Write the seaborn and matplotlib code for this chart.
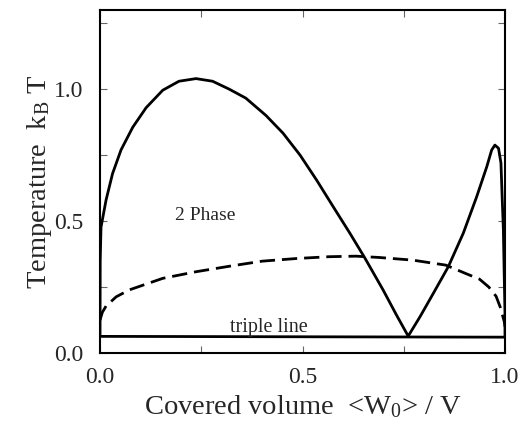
import matplotlib
matplotlib.use("Agg")
import matplotlib.pyplot as plt
import seaborn as sns
from matplotlib.ticker import MultipleLocator

# binodal (solid), dashed curve, triple line
solid_x = [0.0, 0.0005, 0.0025, 0.015, 0.031, 0.052, 0.081, 0.114, 0.155, 0.195,
           0.237, 0.278, 0.319, 0.36, 0.41, 0.452, 0.494, 0.535, 0.576, 0.617,
           0.654, 0.699, 0.732, 0.761, 0.79, 0.823, 0.86, 0.897, 0.93, 0.955,
           0.967, 0.975, 0.984, 0.990, 0.993, 0.996, 0.998, 1.0, 1.0]
solid_y = [0.062, 0.35, 0.477, 0.58, 0.68, 0.77, 0.856, 0.93, 0.996, 1.03,
           1.04, 1.03, 1.0, 0.966, 0.90, 0.833, 0.75, 0.655, 0.554, 0.454,
           0.36, 0.239, 0.144, 0.064, 0.137, 0.226, 0.327, 0.454, 0.592, 0.706,
           0.769, 0.788, 0.776, 0.72, 0.59, 0.466, 0.30, 0.15, 0.062]

dash_x = [0.0, 0.006, 0.015, 0.04, 0.072, 0.155, 0.237, 0.32, 0.40, 0.484, 0.566,
          0.632, 0.69, 0.772, 0.854, 0.905, 0.937, 0.96, 0.978, 0.988, 0.998, 1.0]
dash_y = [0.125, 0.155, 0.178, 0.213, 0.239, 0.283, 0.308, 0.329, 0.348, 0.358, 0.365,
          0.367, 0.362, 0.352, 0.333, 0.30, 0.28, 0.25, 0.215, 0.175, 0.12, 0.10]

triple_x = [0.0, 1.0]
triple_y = [0.063, 0.060]

sns.set_theme(style="ticks")
plt.rcParams["font.family"] = ["Liberation Serif", "DejaVu Serif"]
plt.rcParams["mathtext.fontset"] = "custom"
plt.rcParams["mathtext.rm"] = "Liberation Serif"
plt.rcParams["mathtext.it"] = "Liberation Serif:italic"
plt.rcParams["lines.solid_joinstyle"] = "round"
plt.rcParams["lines.solid_capstyle"] = "butt"

fig = plt.figure(figsize=(5.21, 4.26), dpi=100)
ax = fig.add_axes([100 / 521, 73 / 426, 405 / 521, 343 / 426])

sns.lineplot(x=solid_x, y=solid_y, sort=False, estimator=None, color="black",
             linewidth=2.0, ax=ax)
sns.lineplot(x=dash_x, y=dash_y, sort=False, estimator=None, color="black",
             linewidth=2.0, ax=ax)
ax.lines[-1].set_dashes([5.5, 2.5])
sns.lineplot(x=triple_x, y=triple_y, sort=False, estimator=None, color="black",
             linewidth=2.0, ax=ax)

ax.text(0.26, 0.52, "2 Phase", fontsize=14, ha="center", va="center")
ax.text(0.418, 0.078, "triple line", fontsize=14.5, ha="center", va="baseline")

ax.set_xlim(0, 1.0)
ax.set_ylim(0, 1.3)
ax.xaxis.set_major_locator(MultipleLocator(0.5))
ax.xaxis.set_minor_locator(MultipleLocator(0.25))
ax.yaxis.set_major_locator(MultipleLocator(0.5))
ax.yaxis.set_minor_locator(MultipleLocator(0.25))
ax.tick_params(which="both", direction="in", top=True, right=True,
               labelsize=17, width=0.8, length=5, color="#666666")
ax.tick_params(axis="x", pad=10)
ax.tick_params(axis="y", pad=12)
for s in ax.spines.values():
    s.set_linewidth(1.5)
    s.set_color("black")

ax.set_xlabel(r"Covered volume  <W$_0$> / V", fontsize=20.5, labelpad=4)
ax.set_ylabel(r"Temperature  k$_\mathrm{B}$ T", fontsize=20.5, labelpad=0)

fig.savefig("out.png", dpi=100)
